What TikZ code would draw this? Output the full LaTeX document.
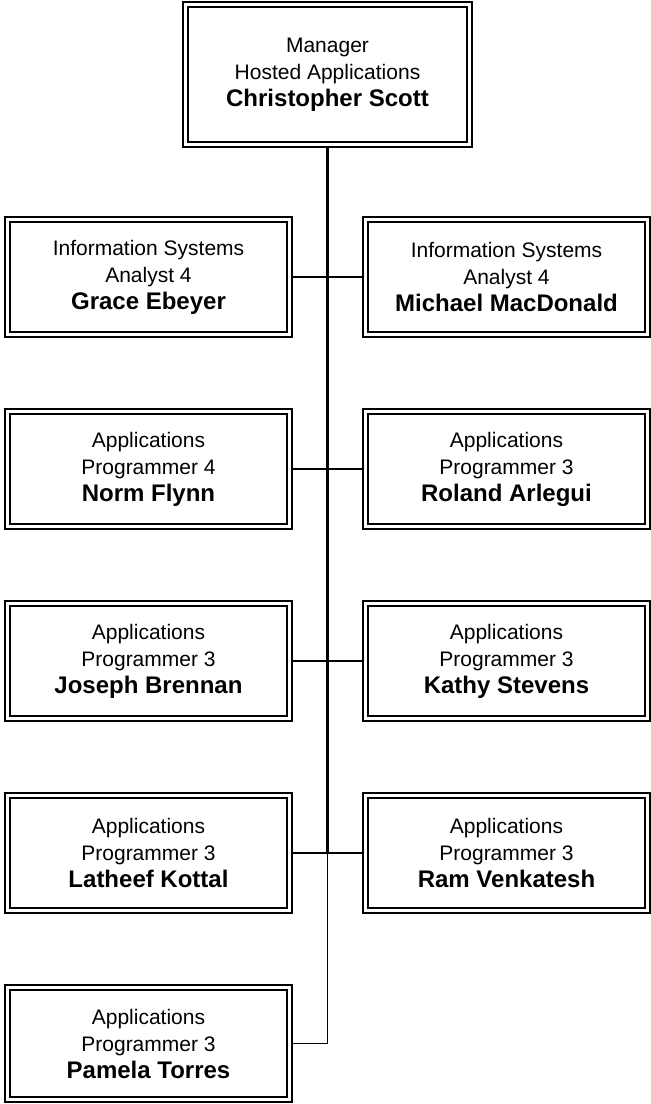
\documentclass[tikz,border=0pt]{standalone}
\usepackage{fontspec}
\setmainfont{Liberation Sans}
\newcommand{\nm}[1]{{\fontsize{24}{27}\selectfont\bfseries #1}}
\begin{document}
\begin{tikzpicture}[x=1pt,y=1pt,
  orgbox/.style={draw, line width=1.2pt, inner sep=0pt, align=center,
    minimum width=287pt, minimum height=120pt,
    font=\fontsize{21}{27}\selectfont,
    path picture={\draw[line width=2pt]
      ([shift={(5pt,5pt)}]path picture bounding box.south west) rectangle
      ([shift={(-5pt,-5pt)}]path picture bounding box.north east);}},
  trunk/.style={line width=3pt},
  link/.style={line width=1.3pt}]
\useasboundingbox (0,0) rectangle (651,-1104);
\node[orgbox, minimum width=289pt, minimum height=145pt] (top) at (327.5,-74.5)
  {Manager\\Hosted Applications\\\nm{Christopher Scott}};
\node[orgbox] (L1) at (148.5,-277) {Information Systems\\Analyst 4\\\nm{Grace Ebeyer}};
\node[orgbox] (R1) at (506.5,-277) {Information Systems\\Analyst 4\\\nm{Michael MacDonald}};
\node[orgbox] (L2) at (148.5,-469) {Applications\\Programmer 4\\\nm{Norm Flynn}};
\node[orgbox] (R2) at (506.5,-469) {Applications\\Programmer 3\\\nm{Roland Arlegui}};
\node[orgbox] (L3) at (148.5,-661) {Applications\\Programmer 3\\\nm{Joseph Brennan}};
\node[orgbox] (R3) at (506.5,-661) {Applications\\Programmer 3\\\nm{Kathy Stevens}};
\node[orgbox] (L4) at (148.5,-853) {Applications\\Programmer 3\\\nm{Latheef Kottal}};
\node[orgbox] (R4) at (506.5,-853) {Applications\\Programmer 3\\\nm{Ram Venkatesh}};
\node[orgbox, minimum height=117pt] (L5) at (148.5,-1043.5) {Applications\\Programmer 3\\\nm{Pamela Torres}};
\coordinate (j4) at (top.south |- L4.east);
\coordinate (j5) at (top.south |- L5.east);
\draw[trunk] (top.south) -- (j4);
\draw[link] (j4) -- (j5) -- (L5.east);
\draw[link] (L1.east) -- (R1.west);
\draw[link] (L2.east) -- (R2.west);
\draw[link] (L3.east) -- (R3.west);
\draw[link] (L4.east) -- (R4.west);
\end{tikzpicture}
\end{document}
